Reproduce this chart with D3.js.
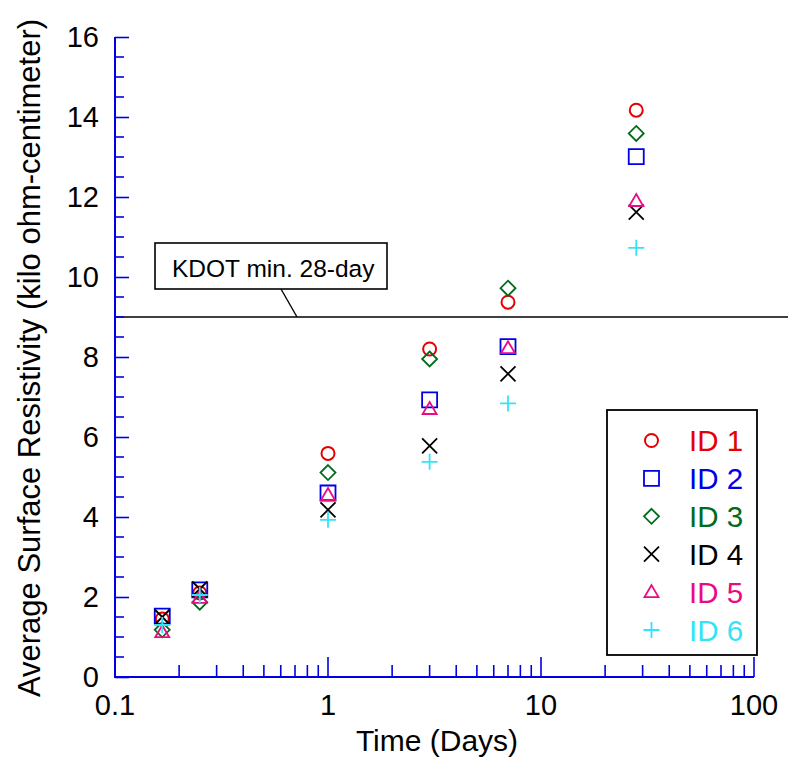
<!DOCTYPE html>
<html>
<head>
<meta charset="utf-8">
<script src="https://cdn.jsdelivr.net/npm/d3@7"></script>
<style>
  html, body { margin: 0; padding: 0; background: #fff; }
  svg { display: block; font-family: "Liberation Sans", Arial, sans-serif; }
</style>
</head>
<body>
<svg id="chart" width="788" height="759"></svg>
<script>
// Test ages in days (4 h, 6 h, 1, 3, 7 and 28 days)
const days = [1 / 6, 0.25, 1, 3, 7, 28];

// Average surface resistivity (kilo ohm-centimeter) per mix
const id1 = [1.45, 2.1, 5.59, 8.2, 9.37, 14.17];
const id2 = [1.52, 2.18, 4.6, 6.93, 8.26, 13.01];
const id3 = [1.18, 1.87, 5.11, 7.95, 9.72, 13.59];
const id4 = [1.5, 2.2, 4.18, 5.78, 7.58, 11.62];
const id5 = [1.12, 1.98, 4.55, 6.7, 8.22, 11.9];
const id6 = [1.3, 2.05, 3.93, 5.38, 6.84, 10.73];

const seriesNames = ["ID 1", "ID 2", "ID 3", "ID 4", "ID 5", "ID 6"];
const seriesColors = ["#e60000", "#0000e6", "#006b1b", "#000000", "#ec0a84", "#33e3f7"];
const seriesShapes = ["circle", "square", "diamond", "cross", "triangle", "plus"];

const xTickValues = [0.1, 1, 10, 100];
const yTickValues = [0, 2, 4, 6, 8, 10, 12, 14, 16];

const kdotLimit = 9;
const kdotLabel = "KDOT min. 28-day";

const series = [id1, id2, id3, id4, id5, id6].map((vals, i) => ({
  name: seriesNames[i], color: seriesColors[i], shape: seriesShapes[i],
  points: vals.map((v, j) => ({ t: days[j], v }))
}));

const svg = d3.select("#chart");
const W = 788;
const axisColor = "#0000e6";

const x = d3.scaleLog().domain([0.1, 100]).range([115, 754]);
const y = d3.scaleLinear().domain([0, 16]).range([677, 37]);

// marker path generator, centred on 0,0
function markerPath(shape) {
  const p = d3.path();
  if (shape === "square") {
    p.rect(-7.5, -7.5, 15, 15);
  } else if (shape === "diamond") {
    p.moveTo(0, -7.5); p.lineTo(7.5, 0); p.lineTo(0, 7.5); p.lineTo(-7.5, 0); p.closePath();
  } else if (shape === "cross") {
    p.moveTo(-7.5, -7.5); p.lineTo(7.5, 7.5); p.moveTo(7.5, -7.5); p.lineTo(-7.5, 7.5);
  } else if (shape === "triangle") {
    p.moveTo(0, -7); p.lineTo(7, 5); p.lineTo(-7, 5); p.closePath();
  } else if (shape === "plus") {
    p.moveTo(-8, 0); p.lineTo(8, 0); p.moveTo(0, -8); p.lineTo(0, 8);
  }
  return p.toString();
}

function drawMarker(g, shape, color) {
  if (shape === "circle") {
    g.append("circle").attr("r", 6.5)
      .attr("fill", "none").attr("stroke", color).attr("stroke-width", 2);
  } else {
    g.append("path").attr("d", markerPath(shape))
      .attr("fill", "none").attr("stroke", color).attr("stroke-width", 1.8);
  }
}

// KDOT minimum line, running to the right edge of the page
svg.append("line")
  .attr("x1", x(0.1)).attr("x2", W)
  .attr("y1", y(kdotLimit)).attr("y2", y(kdotLimit))
  .attr("stroke", "#000").attr("stroke-width", 1.6);

// callout box with leader line
const boxX = 155, boxY = 243, boxW = 232, boxH = 46;
svg.append("line")
  .attr("x1", 281).attr("y1", boxY + boxH)
  .attr("x2", 297).attr("y2", y(kdotLimit))
  .attr("stroke", "#000").attr("stroke-width", 1.4);
svg.append("rect")
  .attr("x", boxX).attr("y", boxY).attr("width", boxW).attr("height", boxH)
  .attr("fill", "#fff").attr("stroke", "#000").attr("stroke-width", 1.6);
svg.append("text")
  .attr("x", 172).attr("y", 277)
  .attr("font-size", 24.5).attr("fill", "#000")
  .text(kdotLabel);

// y axis: major ticks every 2, minor every 0.5, ticks pointing inward
const yMinor = d3.range(0, 16.01, 0.5).filter(v => v % 2 !== 0);
const yAxis = svg.append("g").attr("transform", `translate(${x(0.1)},0)`);
yAxis.selectAll("line.minor").data(yMinor).join("line")
  .attr("x1", 0).attr("x2", 9).attr("y1", d => y(d)).attr("y2", d => y(d))
  .attr("stroke", axisColor).attr("stroke-width", 1.6);
yAxis.call(d3.axisRight(y).tickValues(yTickValues).tickSize(14).tickFormat(""))
  .call(g => g.select(".domain").remove())
  .call(g => g.selectAll(".tick line").attr("stroke", axisColor).attr("stroke-width", 1.6));
yAxis.append("line").attr("x1", 0).attr("x2", 0)
  .attr("y1", y(16)).attr("y2", y(0) + 1)
  .attr("stroke", axisColor).attr("stroke-width", 2);
svg.append("g").selectAll("text").data(yTickValues).join("text")
  .attr("x", 99).attr("y", d => y(d) + 10)
  .attr("text-anchor", "end").attr("font-size", 29).attr("fill", "#000")
  .text(d => d);

// x axis: log decades with minor ticks 2..9, ticks pointing inward
const xMinor = [];
[0.1, 1, 10].forEach(dec => { for (let k = 2; k <= 9; k++) xMinor.push(dec * k); });
const xAxis = svg.append("g").attr("transform", `translate(0,${y(0)})`);
xAxis.selectAll("line.minor").data(xMinor).join("line")
  .attr("x1", d => x(d)).attr("x2", d => x(d)).attr("y1", 0).attr("y2", -12)
  .attr("stroke", axisColor).attr("stroke-width", 1.6);
xAxis.selectAll("line.major").data(xTickValues.slice(1)).join("line")
  .attr("x1", d => x(d)).attr("x2", d => x(d)).attr("y1", 0).attr("y2", -20)
  .attr("stroke", axisColor).attr("stroke-width", 1.6);
xAxis.append("line").attr("x1", x(0.1) - 1).attr("x2", x(100))
  .attr("y1", 0).attr("y2", 0)
  .attr("stroke", axisColor).attr("stroke-width", 2);
svg.append("g").selectAll("text").data(xTickValues).join("text")
  .attr("x", d => x(d)).attr("y", 715)
  .attr("text-anchor", "middle").attr("font-size", 29).attr("fill", "#000")
  .text(d => d3.format("~g")(d));

// axis titles
svg.append("text")
  .attr("x", 437).attr("y", 751)
  .attr("text-anchor", "middle").attr("font-size", 30).attr("fill", "#000")
  .text("Time (Days)");
svg.append("text")
  .attr("transform", "translate(40,358) rotate(-90)")
  .attr("text-anchor", "middle").attr("font-size", 31).attr("fill", "#000")
  .text("Average Surface Resistivity (kilo ohm-centimeter)");

// data markers
const marks = svg.append("g");
series.forEach(s => {
  s.points.forEach(p => {
    const g = marks.append("g").attr("transform", `translate(${x(p.t)},${y(p.v)})`);
    drawMarker(g, s.shape, s.color);
  });
});

// legend
const legX = 607, legY = 410, legW = 150, legH = 245;
const legend = svg.append("g");
legend.append("rect")
  .attr("x", legX).attr("y", legY).attr("width", legW).attr("height", legH)
  .attr("fill", "#fff").attr("stroke", "#000").attr("stroke-width", 1.8);
series.forEach((s, i) => {
  const cy = 440.5 + i * 37.9;
  const g = legend.append("g").attr("transform", `translate(651.5,${cy})`);
  drawMarker(g, s.shape, s.color);
  legend.append("text")
    .attr("x", 689).attr("y", cy + 10.5)
    .attr("font-size", 29.5).attr("fill", s.color)
    .text(s.name);
});
</script>
</body>
</html>
